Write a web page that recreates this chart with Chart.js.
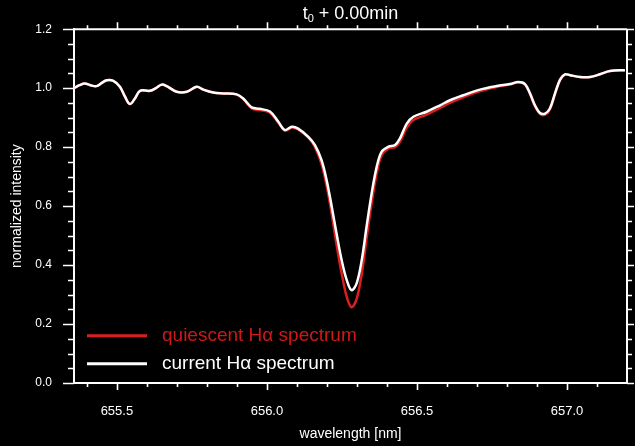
<!DOCTYPE html>
<html>
<head>
<meta charset="utf-8">
<title>H-alpha spectrum</title>
<script src="https://cdn.jsdelivr.net/npm/chart.js@4/dist/chart.umd.min.js"></script>
<style>
  html, body { margin: 0; padding: 0; background: #000; }
  #wrap { width: 635px; height: 446px; }
</style>
</head>
<body>
<div id="wrap"><canvas id="spec" width="635" height="446"></canvas></div>
<script>
// Wavelength samples [nm]
const wavelength = [
  655.357, 655.375, 655.393, 655.412, 655.432, 655.450, 655.466, 655.488, 655.510, 655.527,
  655.543, 655.560, 655.577, 655.610, 655.630, 655.649, 655.666, 655.699, 655.733, 655.766,
  655.788, 655.821, 655.855, 655.899, 655.921, 655.949, 655.975, 656.010, 656.038, 656.060,
  656.083, 656.104, 656.138, 656.160, 656.182, 656.199, 656.216, 656.232, 656.249, 656.266,
  656.282, 656.299, 656.316, 656.332, 656.349, 656.366, 656.382, 656.404, 656.427, 656.443,
  656.466, 656.488, 656.532, 656.577, 656.610, 656.654, 656.710, 656.766, 656.810, 656.838,
  656.860, 656.877, 656.893, 656.910, 656.927, 656.943, 656.960, 656.977, 656.993, 657.010,
  657.043, 657.077, 657.110, 657.143, 657.193
];

// Current profile (white)
const currentSpectrum = [
  1.000, 1.010, 1.016, 1.010, 1.007, 1.018, 1.027, 1.025, 1.005, 0.971,
  0.946, 0.965, 0.991, 0.991, 1.000, 1.012, 1.007, 0.988, 0.988, 1.005,
  0.995, 0.985, 0.982, 0.979, 0.965, 0.935, 0.930, 0.921, 0.886, 0.858,
  0.869, 0.863, 0.835, 0.807, 0.756, 0.688, 0.598, 0.507, 0.417, 0.349,
  0.315, 0.338, 0.417, 0.530, 0.643, 0.734, 0.784, 0.801, 0.807, 0.829,
  0.880, 0.903, 0.920, 0.942, 0.959, 0.976, 0.995, 1.007, 1.014, 1.021,
  1.014, 0.982, 0.942, 0.916, 0.914, 0.931, 0.982, 1.029, 1.047, 1.044,
  1.038, 1.038, 1.047, 1.058, 1.061
];

// Quiescent profile (red)
const quiescentSpectrum = [
  1.000, 1.010, 1.016, 1.010, 1.007, 1.018, 1.027, 1.025, 1.005, 0.971,
  0.946, 0.965, 0.991, 0.991, 1.000, 1.012, 1.007, 0.988, 0.988, 1.005,
  0.995, 0.985, 0.982, 0.979, 0.963, 0.931, 0.926, 0.917, 0.883, 0.856,
  0.866, 0.860, 0.832, 0.800, 0.742, 0.668, 0.572, 0.470, 0.372, 0.292,
  0.257, 0.285, 0.370, 0.490, 0.610, 0.712, 0.772, 0.795, 0.800, 0.818,
  0.866, 0.892, 0.910, 0.933, 0.950, 0.969, 0.990, 1.004, 1.012, 1.020,
  1.012, 0.979, 0.939, 0.912, 0.910, 0.928, 0.980, 1.028, 1.047, 1.044,
  1.038, 1.038, 1.047, 1.058, 1.061
];

// Axis ticks
const xMajorTicks = [655.5, 656.0, 656.5, 657.0];
const xMinorTicks = [655.4, 655.6, 655.7, 655.8, 655.9, 656.1, 656.2, 656.3, 656.4,
                     656.6, 656.7, 656.8, 656.9, 657.1];
const yMajorTicks = [0.0, 0.2, 0.4, 0.6, 0.8, 1.0, 1.2];
const yMinorTicks = [0.05, 0.10, 0.15, 0.25, 0.30, 0.35, 0.45, 0.50, 0.55, 0.65, 0.70,
                     0.75, 0.85, 0.90, 0.95, 1.05, 1.10, 1.15];

const xRange = [655.357, 657.2];
const yRange = [0.0, 1.2];

const titleMain = ' + 0.00min';
const legendLabels = ['quiescent H\u03b1 spectrum', 'current H\u03b1 spectrum'];

const RED = '#dc1e1e';
const LEGEND_RED = '#d01818';
const WHITE = '#ffffff';
const FONT = '"Liberation Sans", Arial, Helvetica, sans-serif';

const toPoints = ys => wavelength.map((w, i) => ({ x: w, y: ys[i] }));

// Frame on the top/right sides, outward tick marks on all four sides,
// the plot title and the in-plot legend.
const framePlugin = {
  id: 'frame',
  afterDraw(chart) {
    const { ctx, chartArea: a, scales: { x, y } } = chart;
    ctx.save();
    ctx.strokeStyle = WHITE;
    ctx.lineWidth = 2;
    ctx.beginPath();
    ctx.moveTo(a.left, a.top); ctx.lineTo(a.right, a.top);
    ctx.moveTo(a.right, a.top); ctx.lineTo(a.right, a.bottom);
    ctx.stroke();

    ctx.lineWidth = 1.6;
    ctx.beginPath();
    const xt = (v, len) => {
      const px = Math.round(x.getPixelForValue(v)) + 0.5;
      ctx.moveTo(px, a.bottom); ctx.lineTo(px, a.bottom + len);
      ctx.moveTo(px, a.top); ctx.lineTo(px, a.top - len);
    };
    xMajorTicks.forEach(v => xt(v, 7));
    xMinorTicks.forEach(v => xt(v, 4));
    const yt = (v, lenL, lenR) => {
      const py = Math.round(y.getPixelForValue(v)) + 0.5;
      ctx.moveTo(a.left, py); ctx.lineTo(a.left - lenL, py);
      ctx.moveTo(a.right, py); ctx.lineTo(a.right + lenR, py);
    };
    yMajorTicks.forEach(v => yt(v, 11, 7));
    yMinorTicks.forEach(v => yt(v, 6, 5));
    ctx.stroke();

    // title: t with subscript 0
    ctx.fillStyle = WHITE;
    ctx.textBaseline = 'alphabetic';
    ctx.font = '18px ' + FONT;
    const tW = ctx.measureText('t').width;
    const restW = ctx.measureText(titleMain).width;
    ctx.font = '11px ' + FONT;
    const subW = ctx.measureText('0').width;
    const total = tW + subW + restW;
    let tx = (a.left + a.right) / 2 - total / 2;
    const base = 19;
    ctx.font = '18px ' + FONT;
    ctx.textAlign = 'left';
    ctx.fillText('t', tx, base);
    tx += tW;
    ctx.font = '11px ' + FONT;
    ctx.fillText('0', tx, base + 3);
    tx += subW;
    ctx.font = '18px ' + FONT;
    ctx.fillText(titleMain, tx, base);

    // legend
    const entries = [
      { label: legendLabels[0], line: RED, text: LEGEND_RED, value: 0.16 },
      { label: legendLabels[1], line: WHITE, text: WHITE, value: 0.065 }
    ];
    ctx.font = '19px ' + FONT;
    ctx.textBaseline = 'middle';
    entries.forEach(e => {
      const py = y.getPixelForValue(e.value);
      ctx.strokeStyle = e.line;
      ctx.lineWidth = 3;
      ctx.beginPath();
      ctx.moveTo(a.left + 13, py); ctx.lineTo(a.left + 73, py);
      ctx.stroke();
      ctx.fillStyle = e.text;
      ctx.fillText(e.label, a.left + 88, py);
    });
    ctx.restore();
  }
};

new Chart(document.getElementById('spec'), {
  type: 'line',
  data: {
    datasets: [
      {
        label: legendLabels[1],
        data: toPoints(currentSpectrum),
        borderColor: WHITE,
        borderWidth: 2.5,
        pointRadius: 0,
        tension: 0.35,
        fill: false
      },
      {
        label: legendLabels[0],
        data: toPoints(quiescentSpectrum),
        borderColor: RED,
        borderWidth: 2.5,
        pointRadius: 0,
        tension: 0.35,
        fill: false
      }
    ]
  },
  options: {
    responsive: false,
    animation: false,
    devicePixelRatio: 1,
    layout: { padding: { top: 29, right: 8, left: 0, bottom: 0 } },
    plugins: { legend: { display: false }, tooltip: { enabled: false } },
    scales: {
      x: {
        type: 'linear',
        position: 'bottom',
        min: xRange[0],
        max: xRange[1],
        afterBuildTicks: s => { s.ticks = xMajorTicks.map(v => ({ value: v })); },
        afterFit: s => { s.height = 63; },
        grid: { display: true, drawOnChartArea: false, drawTicks: false },
        border: { display: true, color: WHITE, width: 2 },
        ticks: {
          color: WHITE,
          padding: 21,
          maxRotation: 0,
          font: { family: FONT, size: 13 },
          callback: v => Number(v).toFixed(1)
        },
        title: {
          display: true,
          text: 'wavelength [nm]',
          color: WHITE,
          font: { family: FONT, size: 14 },
          padding: { top: 0, bottom: 3 }
        }
      },
      y: {
        type: 'linear',
        position: 'left',
        min: yRange[0],
        max: yRange[1],
        afterBuildTicks: s => { s.ticks = yMajorTicks.map(v => ({ value: v })); },
        afterFit: s => { s.width = 74; },
        grid: { display: true, drawOnChartArea: false, drawTicks: false },
        border: { display: true, color: WHITE, width: 2 },
        ticks: {
          color: WHITE,
          padding: 22,
          font: { family: FONT, size: 12 },
          callback: v => Number(v).toFixed(1)
        },
        title: {
          display: true,
          text: 'normalized intensity',
          color: WHITE,
          font: { family: FONT, size: 14 },
          padding: { top: 9, bottom: 0 }
        }
      }
    }
  },
  plugins: [framePlugin]
});
</script>
</body>
</html>
